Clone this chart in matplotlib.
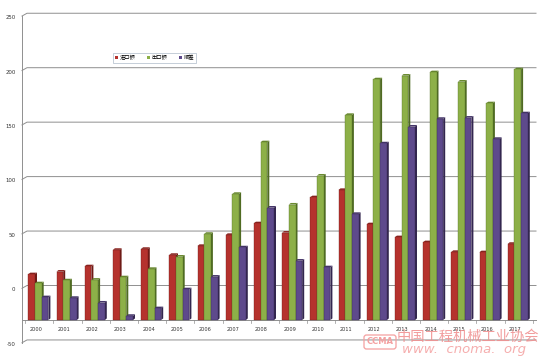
import matplotlib
matplotlib.use("Agg")
import matplotlib.pyplot as plt
from matplotlib.patches import Polygon, Patch

years = [str(y) for y in range(2000, 2018)]
imports = [11.8, 14.2, 19.1, 34.2, 35.1, 29.6, 37.8, 47.9, 58.6, 50.0, 82.5, 89.2, 57.7, 45.8, 41.2, 32.3, 32.0, 39.7]
exports = [3.5, 6.2, 6.8, 9.0, 16.7, 28.0, 48.9, 85.6, 133.0, 75.8, 102.4, 158.1, 190.8, 194.2, 197.3, 188.7, 168.8, 200.0]
surplus = [-9.3, -9.9, -14.2, -26.4, -19.4, -2.0, 9.6, 36.5, 73.0, 24.3, 18.2, 67.2, 132.0, 147.4, 154.5, 155.6, 136.1, 159.6]
series_names = ["进口额", "出口额", "顺差"]
yticks = [-50, 0, 50, 100, 150, 200, 250]

plt.rcParams['font.family'] = ['DejaVu Sans']
CJK = ['Noto Sans CJK SC', 'DejaVu Sans']

W, H = 545, 357
fig = plt.figure(figsize=(W / 100, H / 100), dpi=100)
ax = fig.add_axes([0, 0, 1, 1])
ax.set_axis_off()

px_per_x = 28.2
x0 = -38.35 / px_per_x
ax.set_xlim(x0, x0 + W / px_per_x)
px_per_y = 1.089
ax.set_ylim((285.5 - H) / px_per_y, 285.5 / px_per_y)

def xpx(p):  # pixel distance -> x units
    return p / px_per_x

def ypx(p):
    return p / px_per_y

floor = -31.7
x_wall = x0 + xpx(22)
x_back = x0 + xpx(27)
x_end = x0 + xpx(536)
grid_c = '#8f8f8f'

# back wall gridlines with left stub
for v in yticks:
    ax.plot([x_wall, x_back, x_end], [v - ypx(2.8), v, v], color=grid_c, lw=0.7, zorder=1)
    ax.text(x0 + xpx(15.5), v - ypx(4.3), str(v), ha='right', va='center', fontsize=3.9, color='#333333')
# left wall
ax.plot([x_wall, x_wall], [250 - ypx(2.8), -50 - ypx(2.8)], color=grid_c, lw=0.7, zorder=1)

# category axis line with ticks
ax.plot([x_wall, x_end], [floor, floor], color=grid_c, lw=0.7, zorder=1)
for i in range(len(years) + 1):
    xt = i - 0.5 + xpx(1)
    ax.plot([xt, xt], [floor, floor - ypx(3)], color=grid_c, lw=0.5, zorder=1)
for i, y in enumerate(years):
    ax.text(i - xpx(2.5), floor - ypx(9.8), y, ha='center', va='center', fontsize=3.6, color='#333333', zorder=2)

colors = [('#b5322d', '#6e1a16', '#8a2420'),
          ('#8db048', '#4f6b22', '#6a8a30'),
          ('#5e4a8c', '#33264f', '#46366a')]
bw = xpx(6.7)
dx = xpx(2.0)
dy = ypx(1.6)
data = [imports, exports, surplus]
for i in range(len(years)):
    for k in range(3):
        v = data[k][i]
        xl = i + (k - 1) * bw - bw / 2
        top = v - dy
        front_c, side_c, cap_c = colors[k]
        side = Polygon([(xl + bw, floor), (xl + bw + dx, floor + dy), (xl + bw + dx, top + dy), (xl + bw, top)],
                       closed=True, facecolor=side_c, edgecolor='none', zorder=3)
        cap = Polygon([(xl, top), (xl + dx, top + dy), (xl + bw + dx, top + dy), (xl + bw, top)],
                      closed=True, facecolor=cap_c, edgecolor='none', zorder=3)
        ax.add_patch(side)
        ax.add_patch(cap)
        ax.bar(xl, top - floor, bottom=floor, width=bw, align='edge', color=front_c,
               edgecolor=side_c, linewidth=0.25, zorder=3)

handles = [Patch(facecolor=c[0], edgecolor='none') for c in colors]
leg = ax.legend(handles, series_names, loc='upper left', bbox_to_anchor=(113 / W, 1 - 52.5 / H),
                ncol=3, prop={'family': CJK, 'size': 3.8}, frameon=True, fancybox=False,
                handlelength=0.55, handleheight=0.55, handletextpad=0.3, columnspacing=2.2,
                borderpad=0.45, borderaxespad=0)
leg.get_frame().set_edgecolor('#9aaabb')
leg.get_frame().set_linewidth(0.5)

# watermark
ax.text(380 / W, 1 - 342 / H, 'CCMA', transform=ax.transAxes, fontsize=6, color='#f4a0a0',
        ha='center', va='center', fontweight='bold', zorder=5,
        bbox=dict(boxstyle='round,pad=0.3', facecolor='none', edgecolor='#f4a0a0', lw=0.9))
ax.text(397 / W, 1 - 337 / H, '中国工程机械工业协会', transform=ax.transAxes, fontsize=10.3,
        color='#f08c8c', ha='left', va='center', family=CJK, alpha=0.85, zorder=5)
ax.text(402 / W, 1 - 349.5 / H, 'www.  cnoma.  org', transform=ax.transAxes, fontsize=9.5,
        color='#f4a0a0', ha='left', va='center', style='italic', alpha=0.85, zorder=5)

fig.savefig('out.png', dpi=100, facecolor='white')
